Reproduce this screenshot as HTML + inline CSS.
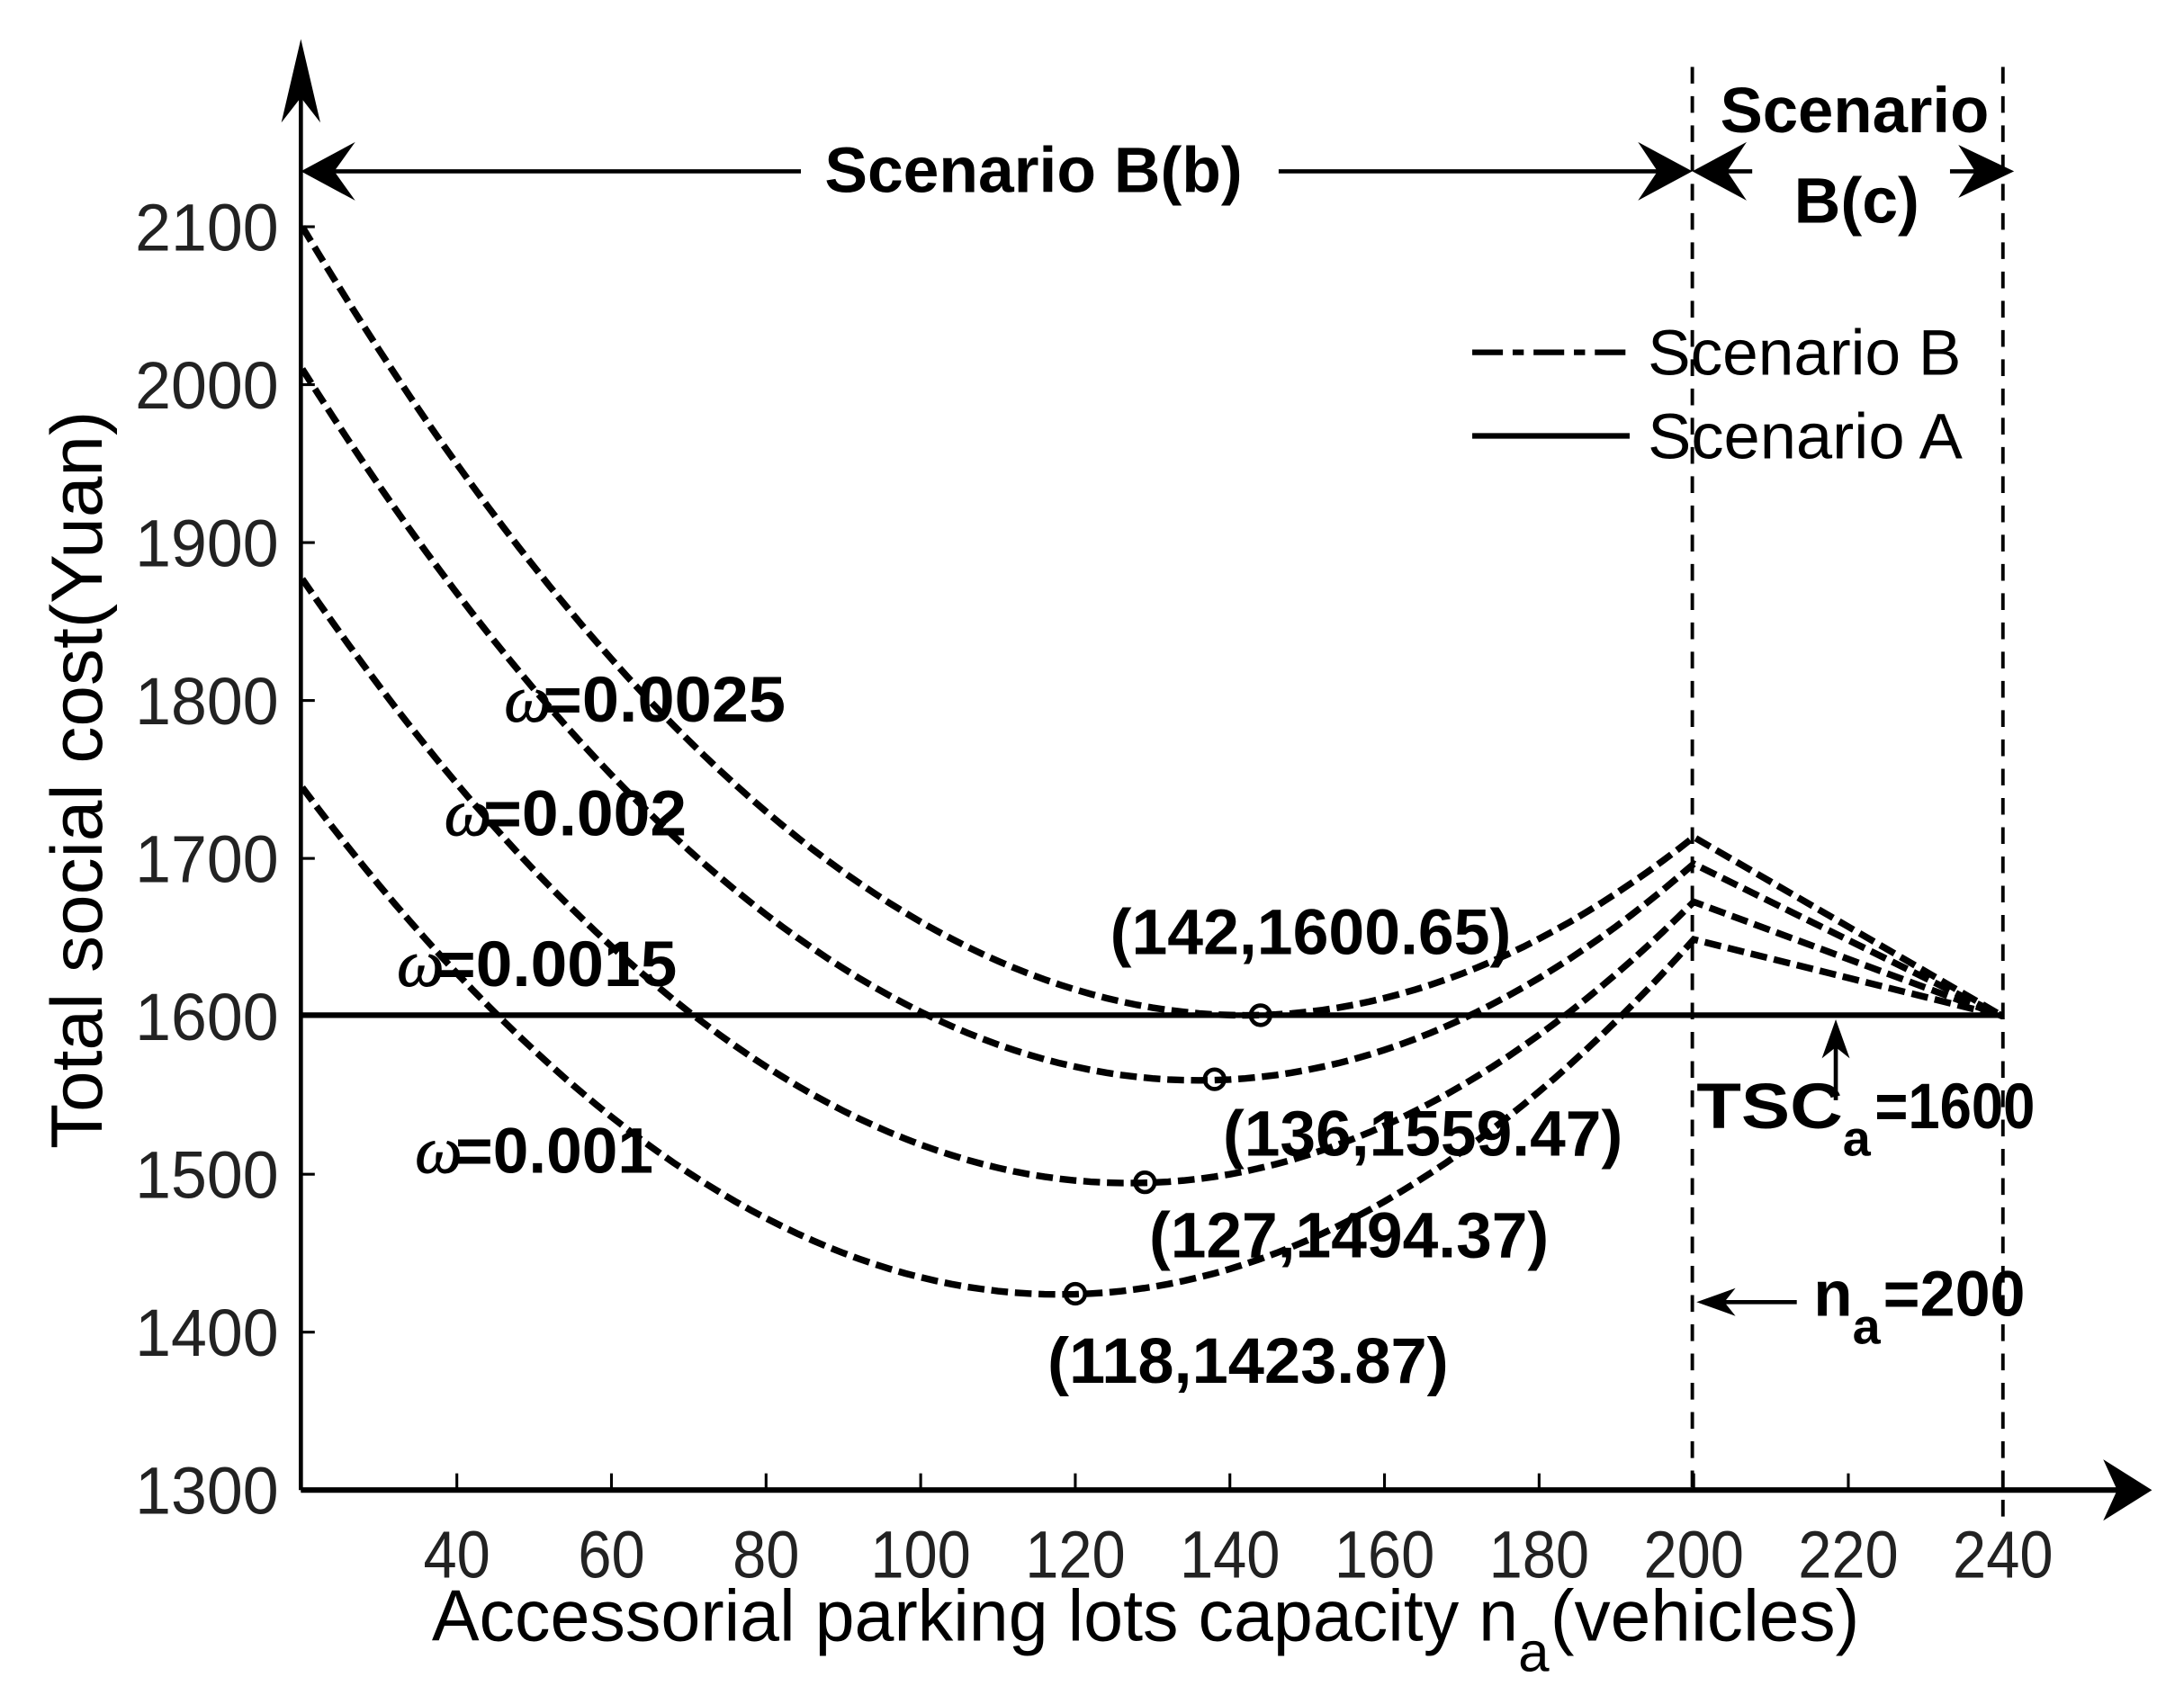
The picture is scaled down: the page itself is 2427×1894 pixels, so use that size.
<!DOCTYPE html>
<html><head><meta charset="utf-8"><style>html,body{margin:0;padding:0;background:#fff}svg{display:block}</style></head>
<body>
<svg id="s" width="2427" height="1894" viewBox="0 0 1568 1223.6" xmlns="http://www.w3.org/2000/svg" font-family="Liberation Sans, Arial, sans-serif">
<rect width="1568" height="1224" fill="#fff"/>
<g stroke="#000" fill="none">
<line x1="216" y1="1070" x2="216" y2="40" stroke-width="3"/>
<line x1="216" y1="1070" x2="1530" y2="1070" stroke-width="4"/>
<line x1="216" y1="729" x2="1438" y2="729" stroke-width="4"/>
<line x1="1215" y1="48" x2="1215" y2="1070" stroke-width="2.5" stroke-dasharray="12 9"/>
<line x1="1438" y1="48" x2="1438" y2="1090" stroke-width="2.5" stroke-dasharray="12 9"/>
<line x1="222" y1="123" x2="575" y2="123" stroke-width="3"/>
<line x1="918" y1="123" x2="1210" y2="123" stroke-width="3"/>
<line x1="1222" y1="123" x2="1258" y2="123" stroke-width="3"/>
<line x1="1400" y1="123" x2="1432" y2="123" stroke-width="3"/>
<line x1="1057" y1="253" x2="1170" y2="253" stroke-width="4" stroke-dasharray="22 7 8 7"/>
<line x1="1057" y1="313" x2="1170" y2="313" stroke-width="4"/>
<line x1="1318" y1="790" x2="1318" y2="740" stroke-width="3"/>
<line x1="1228" y1="935" x2="1290" y2="935" stroke-width="3"/>
<g id="ticks" stroke-width="2"></g>
<g id="curves" stroke-width="4.8" stroke-dasharray="12 5"></g>
<g stroke-width="3">
<circle cx="905" cy="729" r="7"/><circle cx="872" cy="775" r="7"/><circle cx="822" cy="849" r="7"/><circle cx="772" cy="929" r="7"/>
</g>
</g>
<g fill="#000">
<path d="M216 28 L230 88 L216 70 L202 88 Z"/>
<path d="M1545 1070 L1510 1048 L1520 1070 L1510 1092 Z"/>
<path d="M216 123 L255 102 L240 123 L255 144 Z"/>
<path d="M1215 123 L1176 102 L1190 123 L1176 144 Z"/>
<path d="M1215 123 L1254 102 L1240 123 L1254 144 Z"/>
<path d="M1446 123 L1406 104 L1418 123 L1406 142 Z"/>
<path d="M1318 732 L1308 760 L1318 752 L1328 760 Z"/>
<path d="M1218 935 L1246 925 L1238 935 L1246 945 Z"/>
</g>
<g font-size="48" fill="#222" text-anchor="end" id="ylab"></g>
<g font-size="48" fill="#222" text-anchor="middle" id="xlab"></g>
<text x="310" y="1178" font-size="52" textLength="780" lengthAdjust="spacingAndGlyphs">Accessorial parking lots capacity n</text>
<text x="1090" y="1200" font-size="40">a</text>
<text x="1113" y="1178" font-size="52" textLength="222" lengthAdjust="spacingAndGlyphs">(vehicles)</text>
<text transform="translate(73,560) rotate(-90)" font-size="52" text-anchor="middle" textLength="530" lengthAdjust="spacingAndGlyphs">Total social cost(Yuan)</text>
<g font-weight="bold" font-size="46">
<text x="592" y="138" textLength="300" lengthAdjust="spacingAndGlyphs">Scenario B(b)</text>
<text x="1235" y="95" textLength="193" lengthAdjust="spacingAndGlyphs">Scenario</text>
<text x="1288" y="160" textLength="90" lengthAdjust="spacingAndGlyphs">B(c)</text>
<text x="797" y="685" textLength="288" lengthAdjust="spacingAndGlyphs">(142,1600.65)</text>
<text x="878" y="830" textLength="287" lengthAdjust="spacingAndGlyphs">(136,1559.47)</text>
<text x="825" y="903" textLength="287" lengthAdjust="spacingAndGlyphs">(127,1494.37)</text>
<text x="752" y="993" textLength="288" lengthAdjust="spacingAndGlyphs">(118,1423.87)</text>
<text x="1218" y="810" textLength="105" lengthAdjust="spacingAndGlyphs">TSC</text>
<text x="1323" y="830" font-size="36">a</text>
<text x="1346" y="810" textLength="115" lengthAdjust="spacingAndGlyphs">=1600</text>
<text x="1302" y="945" textLength="28" lengthAdjust="spacingAndGlyphs">n</text>
<text x="1330" y="965" font-size="36">a</text>
<text x="1352" y="945" textLength="102" lengthAdjust="spacingAndGlyphs">=200</text>
<text x="390" y="518" textLength="174" lengthAdjust="spacingAndGlyphs">=0.0025</text>
<text x="347" y="600" textLength="146" lengthAdjust="spacingAndGlyphs">=0.002</text>
<text x="314" y="708" textLength="172" lengthAdjust="spacingAndGlyphs">=0.0015</text>
<text x="327" y="842" textLength="142" lengthAdjust="spacingAndGlyphs">=0.001</text>
</g>
<g font-family="Liberation Serif, serif" font-style="italic" font-size="48" stroke="#000" stroke-width="0.6">
<text x="362" y="518">ω</text><text x="319" y="600">ω</text><text x="285" y="708">ω</text><text x="298" y="842">ω</text>
</g>
<g font-size="46" fill="#000">
<text x="1183" y="269" textLength="225" lengthAdjust="spacingAndGlyphs">Scenario B</text>
<text x="1183" y="329" textLength="226" lengthAdjust="spacingAndGlyphs">Scenario A</text>
</g>
</svg>
<script>
var NS="http://www.w3.org/2000/svg";
function X(v){return 217+(v-20)*5.55;}
function Y(v){return 1070-(v-1300)*1.134;}
function el(p,t,a,txt){var e=document.createElementNS(NS,t);for(var k in a)e.setAttribute(k,a[k]);if(txt)e.textContent=txt;document.getElementById(p).appendChild(e);}
for(var v=1300;v<=2100;v+=100){el("ticks","line",{x1:216,y1:Y(v),x2:226,y2:Y(v)});el("ylab","text",{x:200,y:Y(v)+17,textLength:103,lengthAdjust:"spacingAndGlyphs"},""+v);}
for(var v=40;v<=240;v+=20){el("ticks","line",{x1:X(v),y1:1070,x2:X(v),y2:1058});var s=""+v;el("xlab","text",{x:X(v),y:1133,textLength:s.length*24,lengthAdjust:"spacingAndGlyphs"},s);}
var C=[[142,1600.65,0.03355],[136,1559.47,0.03348],[127,1494.37,0.03342],[118,1423.87,0.03343]];
C.forEach(function(c){var d="";for(var x=20;x<=200;x+=2){var y=c[1]+c[2]*(x-c[0])*(x-c[0]);d+=(x==20?"M":"L")+X(x).toFixed(1)+" "+Y(y).toFixed(1);}
d+="L"+X(240)+" "+Y(1600);el("curves","path",{d:d});});
</script>
</body></html>
